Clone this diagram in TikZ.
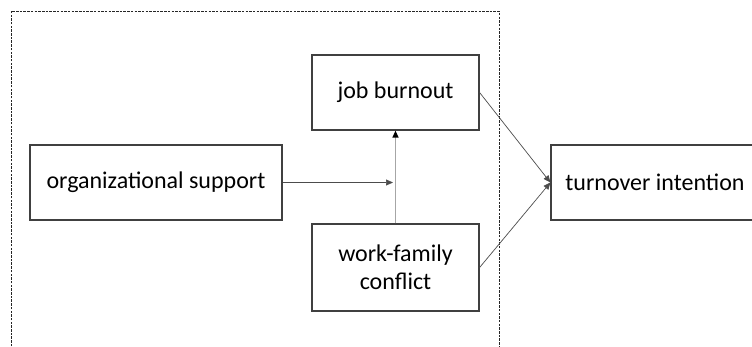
\documentclass[tikz,border=0pt]{standalone}
\usepackage{fontspec}
\setmainfont{Carlito}
\usetikzlibrary{arrows.meta}
\begin{document}
\begin{tikzpicture}[x=1pt,y=-1pt,
  box/.style={draw=black!75,line width=1.2pt,fill=white,inner sep=0pt,align=center,
    font=\fontsize{24}{28}\selectfont},
  conn/.style={draw=black!70,line width=0.7pt,-{Triangle[length=7pt,width=6pt]}},
  vconn/.style={draw=black!35,line width=1.3pt,-{Triangle[length=7pt,width=6pt,fill=black,color=black]}},
  frame/.style={draw=black!85,line width=0.8pt,dash pattern=on 2.5pt off 1.2pt}]
\useasboundingbox (0,0) rectangle (752,346);
\clip (0,0) rectangle (752,346);
\draw[frame] (11,350) -- (11,11) -- (499,11) -- (499,350);
\node[box,minimum width=167pt,minimum height=75pt] (jb) at (395.5,92.5) {job burnout};
\node[box,minimum width=252pt,minimum height=75pt] (os) at (156,182.5) {organizational support};
\node[box,minimum width=167pt,minimum height=87pt] (wf) at (395.5,267.5) {work-family\\conflict};
\node[box,minimum width=208pt,minimum height=75pt] (ti) at (655,182.5) {turnover intention};
\coordinate (mid) at (393,182.5);
\draw[vconn] (wf.north) -- (jb.south);
\draw[conn] (os.east) -- (mid);
\draw[conn] (jb.east) -- (ti.west);
\draw[conn] (wf.east) -- (ti.west);
\end{tikzpicture}
\end{document}
